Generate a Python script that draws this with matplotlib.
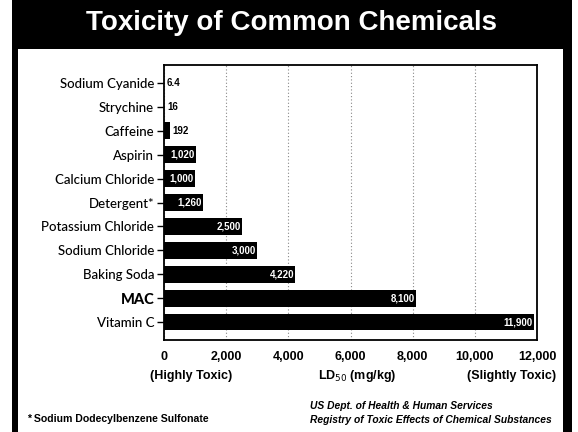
import matplotlib
matplotlib.use("Agg")
import matplotlib.pyplot as plt
from matplotlib.patches import Rectangle

chemicals = ["Sodium Cyanide", "Strychine", "Caffeine", "Aspirin", "Calcium Chloride",
             "Detergent*", "Potassium Chloride", "Sodium Chloride", "Baking Soda",
             "MAC", "Vitamin C"]
ld50 = [6.4, 16, 192, 1020, 1000, 1260, 2500, 3000, 4220, 8100, 11900]
value_labels = ["6.4", "16", "192", "1,020", "1,000", "1,260", "2,500", "3,000",
                "4,220", "8,100", "11,900"]
xticks = [0, 2000, 4000, 6000, 8000, 10000, 12000]
xtick_labels = ["0", "2,000", "4,000", "6,000", "8,000", "10,000", "12,000"]

W, H = 578, 432
fig = plt.figure(figsize=(W / 100, H / 100), dpi=100)

def fx(px):
    return px / W

def fy(py):
    return 1 - py / H

narrow = ["Liberation Sans", "DejaVu Sans"]

# frame: black outer, white inner panel
fig.patches.append(Rectangle((fx(12), 0), fx(572) - fx(12), 1, transform=fig.transFigure,
                             facecolor="black", edgecolor="none", zorder=0))
fig.patches.append(Rectangle((fx(18), 0), fx(563) - fx(18), fy(49), transform=fig.transFigure,
                             facecolor="white", edgecolor="none", zorder=0))

fig.text(fx(292), fy(23), "Toxicity of Common Chemicals", color="white",
         fontsize=20, fontweight="bold", family=narrow, ha="center", va="center")

ax = fig.add_axes([fx(164), fy(340), fx(537) - fx(164), fy(65) - fy(340)])
ax.set_zorder(2)
n = len(chemicals)
ypos = list(range(n))
ax.barh(ypos, ld50, height=0.7, color="black", zorder=3)
ax.set_ylim(n - 1 + 0.75, -0.75)
ax.set_xlim(0, 12000)
ax.set_yticks(ypos)
ax.set_yticklabels(chemicals, fontsize=9.5, family="Lato", fontweight="medium")
for lbl in ax.get_yticklabels():
    if lbl.get_text() == "MAC":
        lbl.set_fontweight("black")
        lbl.set_fontsize(10.5)
ax.set_xticks(xticks)
ax.set_xticklabels(xtick_labels, fontsize=9, fontweight="bold", family=narrow)
ax.tick_params(axis="y", length=5, width=1, pad=2)
ax.tick_params(axis="x", length=0, pad=8)
ax.grid(axis="x", linestyle=(0, (1, 2)), color="#888888", linewidth=0.8, zorder=1)
for s in ax.spines.values():
    s.set_linewidth(1.3)

for y, v, t in zip(ypos, ld50, value_labels):
    if v < 500:
        ax.text(v + 80, y, t, color="black", fontsize=7, fontweight="bold",
                family=narrow, ha="left", va="center", zorder=4)
    else:
        ax.text(v - 40, y, t, color="white", fontsize=7, fontweight="bold",
                family=narrow, ha="right", va="center", zorder=4)

fig.text(fx(191), fy(376), "(Highly Toxic)", fontsize=9, fontweight="bold", family=narrow,
         ha="center", va="center")
fig.text(fx(357), fy(376), "LD$_{50}$ (mg/kg)", fontsize=9, fontweight="bold", family=narrow,
         ha="center", va="center")
fig.text(fx(512), fy(376), "(Slightly Toxic)", fontsize=9, fontweight="bold", family=narrow,
         ha="center", va="center")
fig.text(fx(27), fy(419), "* Sodium Dodecylbenzene Sulfonate", fontsize=7.6, fontweight="bold",
         family=narrow, ha="left", va="center")
fig.text(fx(310), fy(406), "US Dept. of Health & Human Services", fontsize=7.4,
         fontweight="bold", style="italic", family=narrow, ha="left", va="center")
fig.text(fx(310), fy(420), "Registry of Toxic Effects of Chemical Substances", fontsize=7.4,
         fontweight="bold", style="italic", family=narrow, ha="left", va="center")

fig.savefig("out.png", dpi=100)
